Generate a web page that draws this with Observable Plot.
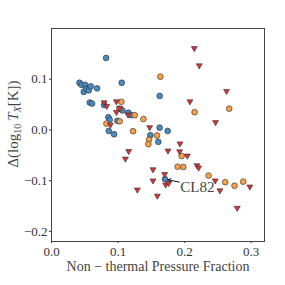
<!DOCTYPE html>
<html>
<head>
<meta charset="utf-8">
<script src="https://cdn.jsdelivr.net/npm/d3@7"></script>
<script src="https://cdn.jsdelivr.net/npm/@observablehq/plot@0.6"></script>
<style>
  html, body { margin: 0; padding: 0; background: #fff; }
</style>
</head>
<body>
<div id="chart"></div>
<script>
// Blue circles
const blueX = [0.082, 0.042, 0.045, 0.0505, 0.0485, 0.052, 0.056, 0.059, 0.0685, 0.0575, 0.061, 0.1055, 0.079, 0.0855, 0.0875, 0.086, 0.094, 0.099, 0.1065, 0.1155, 0.12, 0.1625, 0.1625, 0.1745, 0.1485, 0.1605, 0.1705];
const blueY = [0.142, 0.093, 0.089, 0.089, 0.075, 0.081, 0.078, 0.086, 0.082, 0.054, 0.052, 0.093, 0.049, 0.025, 0.020, -0.002, -0.0085, 0.018, 0.0385, 0.034, 0.029, 0.067, 0.0045, -0.002, -0.0105, -0.0235, -0.097];
// Orange circles
const orangeX = [0.1635, 0.267, 0.215, 0.105, 0.102, 0.0825, 0.1025, 0.125, 0.138, 0.1225, 0.1465, 0.1455, 0.1585, 0.1955, 0.1895, 0.198, 0.236, 0.261, 0.275, 0.288];
const orangeY = [0.105, 0.042, 0.035, 0.0555, 0.042, 0.0125, 0.017, 0.029, 0.0215, -0.0025, -0.019, -0.028, -0.011, -0.0515, -0.0725, -0.073, -0.090, -0.103, -0.110, -0.102];
// Red downward triangles
const redX = [0.2145, 0.222, 0.263, 0.208, 0.2465, 0.1475, 0.079, 0.083, 0.0975, 0.0975, 0.1025, 0.115, 0.0885, 0.116, 0.111, 0.193, 0.1925, 0.175, 0.204, 0.2185, 0.221, 0.1525, 0.1525, 0.170, 0.1715, 0.176, 0.159, 0.129, 0.246, 0.253, 0.298, 0.279];
const redY = [0.161, 0.127, 0.0765, 0.056, 0.015, 0.005, 0.054, 0.047, 0.056, 0.035, 0.043, 0.030, 0.010, -0.042, -0.057, -0.027, -0.0425, -0.041, -0.051, -0.070, -0.0745, -0.078, -0.100, -0.0875, -0.108, -0.105, -0.130, -0.118, -0.100, -0.1195, -0.112, -0.154];

const xTicks = [0, 0.1, 0.2, 0.3];
const yTicks = [-0.2, -0.1, 0, 0.1];
const annotation = {label: "CL82", x: 0.1705, y: -0.097, tx: 0.192, ty: -0.112};

const blue = blueX.map((x, i) => ({x, y: blueY[i]}));
const orange = orangeX.map((x, i) => ({x, y: orangeY[i]}));
const red = redX.map((x, i) => ({x, y: redY[i]}));

const fmt = d => d3.format(".1f")(d).replace("-", "\u2212");
const serif = "'Liberation Serif', 'DejaVu Serif', serif";

const chart = Plot.plot({
  width: 285,
  height: 285,
  marginLeft: 51,
  marginRight: 21,
  marginTop: 28,
  marginBottom: 44,
  style: {fontFamily: serif, fontSize: "13px", color: "#333", background: "#fff"},
  x: {domain: [0, 0.32], ticks: xTicks, tickFormat: fmt, tickSize: 2, tickPadding: 3, label: null},
  y: {domain: [-0.22, 0.2], ticks: yTicks, tickFormat: fmt, tickSize: 2, tickPadding: 2, label: null},
  marks: [
    Plot.frame({stroke: "#444", strokeWidth: 1}),
    Plot.dot(blue, {x: "x", y: "y", r: 2.9, fill: "#4a8ac2", stroke: "#2b2b2b", strokeWidth: 0.6}),
    Plot.dot(orange, {x: "x", y: "y", r: 2.9, fill: "#f8a046", stroke: "#2b2b2b", strokeWidth: 0.6}),
    Plot.dot(red, {x: "x", y: "y", r: 2.2, symbol: "triangle", rotate: 180, fill: "#d8333a", stroke: "#2b2b2b", strokeWidth: 0.6}),
    Plot.arrow([annotation], {x1: "tx", y1: d => d.ty + 0.009, x2: "x", y2: "y", stroke: "#111", strokeWidth: 1, headLength: 5, insetEnd: 3}),
    Plot.text([annotation], {x: "tx", y: "ty", text: "label", textAnchor: "start", dx: 1, fontSize: 15, fill: "#444"})
  ]
});

const svg = d3.select(chart);
// x-axis label
svg.append("text")
  .attr("x", 158).attr("y", 271)
  .attr("text-anchor", "middle")
  .attr("font-family", serif).attr("font-size", 14).attr("fill", "#444")
  .text("Non \u2212 thermal Pressure Fraction");
// y-axis label with subscripts
const yl = svg.append("text")
  .attr("transform", "translate(18,124) rotate(-90)")
  .attr("text-anchor", "middle")
  .attr("font-family", serif).attr("font-size", 15).attr("fill", "#444");
yl.append("tspan").text("\u0394(log");
yl.append("tspan").attr("font-size", 10).attr("dy", 3).text("10");
yl.append("tspan").attr("dy", -3).text("\u2009");
yl.append("tspan").attr("font-style", "italic").text("T");
yl.append("tspan").attr("font-style", "italic").attr("font-size", 10).attr("dy", 3).text("X");
yl.append("tspan").attr("dy", -3).text("[K])");

document.getElementById("chart").appendChild(chart);
</script>
</body>
</html>
